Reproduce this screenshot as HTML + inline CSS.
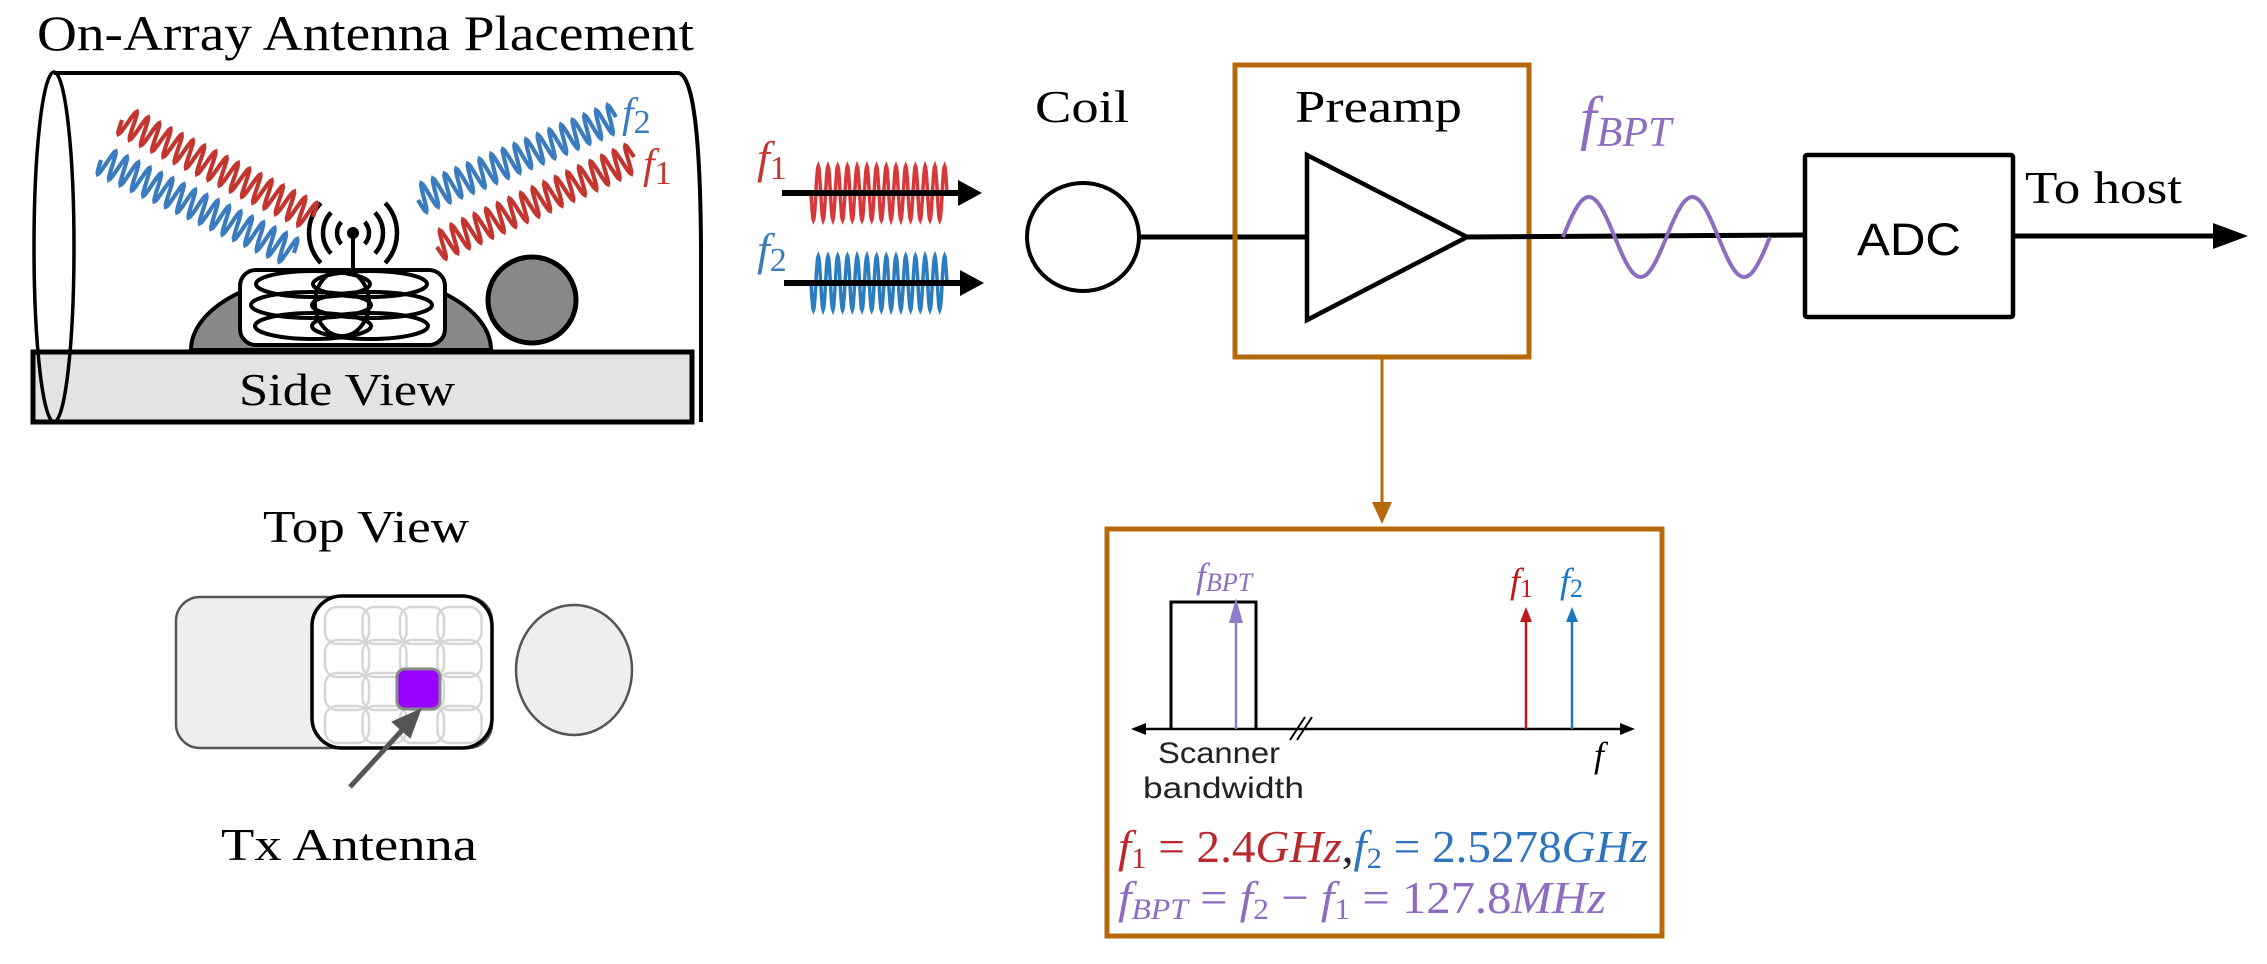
<!DOCTYPE html>
<html><head><meta charset="utf-8"><style>
html,body{margin:0;padding:0;background:#fff;}
svg{display:block;}
.serif{font-family:"Liberation Serif",serif;}
.sans{font-family:"Liberation Sans",sans-serif;}
</style></head><body>
<svg id="s" width="2267" height="964" viewBox="0 0 2267 964" xmlns="http://www.w3.org/2000/svg">
<!-- Title -->
<text class="serif" x="37" y="50" font-size="50" textLength="657" lengthAdjust="spacingAndGlyphs">On-Array Antenna Placement</text>
<!-- cylinder -->
<path d="M54,73 L678,73 Q700,75 701,247 L701,422" fill="none" stroke="#000" stroke-width="4"/>
<rect x="33" y="352" width="659" height="70" fill="#e3e3e3" stroke="#000" stroke-width="5"/>
<text class="serif" x="239" y="405" font-size="46" textLength="216" lengthAdjust="spacingAndGlyphs">Side View</text>
<ellipse cx="54" cy="247" rx="20" ry="175" fill="none" stroke="#000" stroke-width="3.5"/>
<line x1="54" y1="422" x2="692" y2="422" stroke="#000" stroke-width="4"/>
<!-- dome -->
<path d="M191,350 A150,78 0 0 1 491,350 Z" fill="#888" stroke="#000" stroke-width="4"/>
<ellipse cx="532" cy="300" rx="44" ry="43" fill="#888" stroke="#000" stroke-width="5"/>
<rect x="240" y="270" width="205" height="75" rx="16" fill="#fff" stroke="#000" stroke-width="4"/>
<g fill="none" stroke="#000" stroke-width="4">
<ellipse cx="313" cy="284" rx="57" ry="13"/><ellipse cx="370" cy="284" rx="57" ry="13"/>
<ellipse cx="311" cy="305" rx="60" ry="13"/><ellipse cx="372" cy="305" rx="60" ry="13"/>
<ellipse cx="313" cy="326" rx="58" ry="13"/><ellipse cx="370" cy="326" rx="58" ry="13"/>
<ellipse cx="342" cy="303" rx="27" ry="33"/>
</g>
<!-- antenna -->
<line x1="353" y1="233" x2="353" y2="270" stroke="#000" stroke-width="4"/>
<circle cx="353" cy="233" r="6" fill="#000"/>
<g fill="none" stroke="#000" stroke-width="4.5" id="arcs"></g>
<g id="waves" fill="none" stroke-width="4.2"></g>
<text class="serif" x="622" y="127" font-size="42" font-style="italic" fill="#3b7cc0">f<tspan font-style="normal" font-size="34" dy="6">2</tspan></text>
<text class="serif" x="643" y="178" font-size="42" font-style="italic" fill="#c3362f">f<tspan font-style="normal" font-size="34" dy="6">1</tspan></text>

<!-- Top view -->
<text class="serif" x="263" y="542" font-size="46" textLength="206" lengthAdjust="spacingAndGlyphs">Top View</text>
<rect x="176" y="597" width="316" height="151" rx="24" fill="#eeeeee" stroke="#555" stroke-width="2.5"/>
<rect x="312" y="596" width="180" height="152" rx="30" fill="#fff" stroke="#000" stroke-width="3.5"/>
<g id="grid" fill="none" stroke="#d6d6d6" stroke-width="2.5"></g>
<rect x="397" y="669" width="43" height="40" rx="8" fill="#9900ff" stroke="#888" stroke-width="3"/>
<line x1="350" y1="787" x2="405" y2="727" stroke="#555" stroke-width="5"/>
<path d="M420,710 L393,722 L410,737 Z" fill="#555" stroke="#555" stroke-width="2"/>
<ellipse cx="574" cy="670" rx="58" ry="65" fill="#eeeeee" stroke="#555" stroke-width="2.5"/>
<text class="serif" x="221" y="860" font-size="46" textLength="256" lengthAdjust="spacingAndGlyphs">Tx Antenna</text>

<!-- inputs -->
<text class="serif" x="757" y="173" font-size="46" font-style="italic" fill="#c3362f">f<tspan font-style="normal" font-size="34" dy="6">1</tspan></text>
<text class="serif" x="757" y="265" font-size="46" font-style="italic" fill="#3b7cc0">f<tspan font-style="normal" font-size="34" dy="6">2</tspan></text>
<g id="bundles" fill="none" stroke-width="3.5"></g>
<line x1="782" y1="193" x2="960" y2="193" stroke="#000" stroke-width="6"/>
<path d="M958,180 L982,193 L958,206 Z" fill="#000"/>
<line x1="784" y1="283" x2="962" y2="283" stroke="#000" stroke-width="6"/>
<path d="M960,270 L984,283 L960,296 Z" fill="#000"/>

<!-- coil -->
<text class="serif" x="1035" y="122" font-size="46" textLength="94" lengthAdjust="spacingAndGlyphs">Coil</text>
<ellipse cx="1083" cy="237" rx="56" ry="54" fill="#fff" stroke="#000" stroke-width="4"/>
<line x1="1139" y1="237" x2="1307" y2="237" stroke="#000" stroke-width="5"/>
<!-- preamp -->
<rect x="1235" y="65" width="294" height="292" fill="none" stroke="#b5690a" stroke-width="5"/>
<text class="serif" x="1295" y="122" font-size="46" textLength="167" lengthAdjust="spacingAndGlyphs">Preamp</text>
<path d="M1307,155 L1307,320 L1467,237 Z" fill="#fff" stroke="#000" stroke-width="4.5" stroke-linejoin="miter"/>
<line x1="1467" y1="237" x2="1805" y2="235" stroke="#000" stroke-width="5"/>
<path id="sine" fill="none" stroke="#8e6cc0" stroke-width="4"/>
<text class="serif" x="1580" y="138" font-size="60" font-style="italic" fill="#8e6cc0">f<tspan font-size="42" dy="8">BPT</tspan></text>
<!-- ADC -->
<rect x="1805" y="155" width="208" height="162" fill="#fff" stroke="#000" stroke-width="4.5" rx="2"/>
<text class="sans" x="1857" y="255" font-size="45" textLength="104" lengthAdjust="spacingAndGlyphs">ADC</text>
<text class="serif" x="2025" y="203" font-size="46" textLength="157" lengthAdjust="spacingAndGlyphs">To host</text>
<line x1="2013" y1="236" x2="2220" y2="236" stroke="#000" stroke-width="5"/>
<path d="M2213,223 L2248,236 L2213,249 Z" fill="#000"/>

<!-- connector -->
<line x1="1382" y1="357" x2="1382" y2="505" stroke="#b5690a" stroke-width="3"/>
<path d="M1372,502 L1392,502 L1382,524 Z" fill="#b5690a"/>
<!-- spectrum box -->
<rect x="1107" y="529" width="555" height="407" fill="#fff" stroke="#b5690a" stroke-width="5"/>
<line x1="1140" y1="729" x2="1625" y2="729" stroke="#000" stroke-width="2.5"/>
<path d="M1131,729 L1146,723 L1146,735 Z" fill="#000"/>
<path d="M1635,729 L1620,723 L1620,735 Z" fill="#000"/>
<path d="M1171,729 L1171,602 L1256,602 L1256,729" fill="none" stroke="#000" stroke-width="3"/>
<line x1="1236" y1="729" x2="1236" y2="612" stroke="#8e7cc8" stroke-width="2.5"/>
<path d="M1229,623 L1243,623 L1236,598 Z" fill="#8e7cc8"/>
<line x1="1526" y1="729" x2="1526" y2="618" stroke="#c3161c" stroke-width="2.5"/>
<path d="M1520,622 L1532,622 L1526,607 Z" fill="#c3161c"/>
<line x1="1572" y1="729" x2="1572" y2="618" stroke="#1a78c2" stroke-width="2.5"/>
<path d="M1566,622 L1578,622 L1572,607 Z" fill="#1a78c2"/>
<line x1="1290" y1="740" x2="1305" y2="717" stroke="#000" stroke-width="2"/>
<line x1="1297" y1="740" x2="1312" y2="717" stroke="#000" stroke-width="2"/>
<text class="serif" x="1196" y="588" font-size="36" font-style="italic" fill="#8e6cc0">f<tspan font-size="26" dy="3">BPT</tspan></text>
<text class="serif" x="1510" y="593" font-size="36" font-style="italic" fill="#c3161c">f<tspan font-style="normal" font-size="26" dy="4">1</tspan></text>
<text class="serif" x="1560" y="593" font-size="36" font-style="italic" fill="#1a78c2">f<tspan font-style="normal" font-size="26" dy="4">2</tspan></text>
<text class="sans" x="1158" y="763" font-size="30" textLength="122" lengthAdjust="spacingAndGlyphs" fill="#222">Scanner</text>
<text class="sans" x="1143" y="798" font-size="30" textLength="161" lengthAdjust="spacingAndGlyphs" fill="#222">bandwidth</text>
<text class="serif" x="1594" y="767" font-size="36" font-style="italic">f</text>
<text class="serif" x="1118" y="862" font-size="46" textLength="530" lengthAdjust="spacingAndGlyphs"><tspan fill="#b8282c"><tspan font-style="italic">f</tspan><tspan font-size="30" dy="6">1</tspan><tspan dy="-6"> = 2.4</tspan><tspan font-style="italic">GHz</tspan></tspan><tspan fill="#222">,</tspan><tspan fill="#2e74bf"><tspan font-style="italic">f</tspan><tspan font-size="30" dy="6">2</tspan><tspan dy="-6"> = 2.5278</tspan><tspan font-style="italic">GHz</tspan></tspan></text>
<text class="serif" x="1118" y="913" font-size="46" fill="#8e6cc0" textLength="488" lengthAdjust="spacingAndGlyphs"><tspan font-style="italic">f</tspan><tspan font-size="30" dy="6" font-style="italic">BPT</tspan><tspan dy="-6"> =  </tspan><tspan font-style="italic">f</tspan><tspan font-size="30" dy="6">2</tspan><tspan dy="-6"> − </tspan><tspan font-style="italic">f</tspan><tspan font-size="30" dy="6">1</tspan><tspan dy="-6"> = 127.8</tspan><tspan font-style="italic">MHz</tspan></text>
</svg>
<script>
var NS="http://www.w3.org/2000/svg";
function P(d,c,par,w){var p=document.createElementNS(NS,"path");p.setAttribute("d",d);if(c)p.setAttribute("stroke",c);if(w)p.setAttribute("stroke-width",w);document.getElementById(par).appendChild(p);}
function wave(x1,y1,x2,y2,n,a){var dx=x2-x1,dy=y2-y1,L=Math.hypot(dx,dy),ux=dx/L,uy=dy/L,px=-uy,py=ux,d="",N=n*16;
for(var i=0;i<=N;i++){var t=i/N,s=a*Math.sin(2*Math.PI*n*t);var x=x1+dx*t+px*s,y=y1+dy*t+py*s;d+=(i?"L":"M")+x.toFixed(1)+","+y.toFixed(1);}return d;}
P(wave(122,120,313,217,17,14),"#c3362f","waves");
P(wave(101,160,294,253,17,14),"#3b7cc0","waves");
P(wave(418,200,616,117,17,14),"#3b7cc0","waves");
P(wave(437,247,634,157,17,14),"#c3362f","waves");
function vb(x1,x2,yc,a,n){var d="",N=n*20;for(var i=0;i<=N;i++){var t=i/N,x=x1+(x2-x1)*t,y=yc+a*Math.sin(2*Math.PI*n*t);d+=(i?"L":"M")+x.toFixed(1)+","+y.toFixed(1);}return d;}
P(vb(811,947,193,27,14),"#d9383a","bundles");
P(vb(811,947,283,27,14),"#2c7cc0","bundles");
var d="";for(var i=0;i<=200;i++){var x=1563+207*i/200;var y=237-40*Math.sin(2*Math.PI*(x-1563)/103.5);d+=(i?"L":"M")+x.toFixed(1)+","+y.toFixed(1);}
document.getElementById("sine").setAttribute("d",d);
[16,30,44].forEach(function(r){var a=0.75;var cx=353,cy=233;
var xs=Math.cos(a)*r,ys=Math.sin(a)*r;
P("M"+(cx+xs)+","+(cy-ys)+" A"+r+","+r+" 0 0 1 "+(cx+xs)+","+(cy+ys),null,"arcs");
P("M"+(cx-xs)+","+(cy-ys)+" A"+r+","+r+" 0 0 0 "+(cx-xs)+","+(cy+ys),null,"arcs");});
for(var i=0;i<4;i++)for(var j=0;j<4;j++){var r=document.createElementNS(NS,"rect");r.setAttribute("x",325+i*37.5);r.setAttribute("y",607+j*33);r.setAttribute("width",44);r.setAttribute("height",37);r.setAttribute("rx",12);document.getElementById("grid").appendChild(r);}
</script>
</body></html>
